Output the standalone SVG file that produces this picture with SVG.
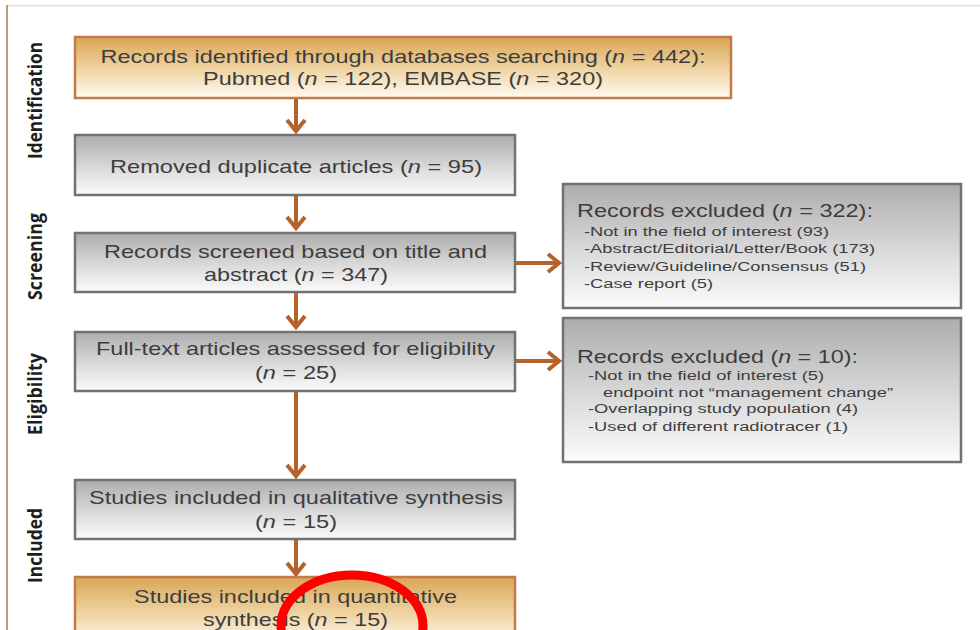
<svg xmlns="http://www.w3.org/2000/svg" width="980" height="630" viewBox="0 0 980 630">
<defs>
<linearGradient id="gOrange" x1="0" y1="0" x2="0" y2="1">
<stop offset="0" stop-color="#d9a656"/>
<stop offset="0.55" stop-color="#f0d6a6"/>
<stop offset="1" stop-color="#fffbf3"/>
</linearGradient>
<linearGradient id="gGray" x1="0" y1="0" x2="0" y2="1">
<stop offset="0" stop-color="#adadad"/>
<stop offset="0.6" stop-color="#dedede"/>
<stop offset="1" stop-color="#fbfbfb"/>
</linearGradient>
<marker id="ah" markerUnits="userSpaceOnUse" markerWidth="30" markerHeight="30" refX="0" refY="0" viewBox="-15 -15 30 30" orient="auto" overflow="visible">
<path d="M-11,-9 L0,0 L-11,9" fill="none" stroke="#b5612b" stroke-width="4"/>
</marker>
</defs>
<style>
.box-o{fill:url(#gOrange);stroke:#c27a48;stroke-width:2.5}
.box-g{fill:url(#gGray);stroke:#727272;stroke-width:2.5}
.t{font-family:"Liberation Sans",Arial,sans-serif;font-size:18.5px;fill:#3d3d3d;text-anchor:middle}
.rt{font-family:"Liberation Sans",Arial,sans-serif;font-size:18px;fill:#3d3d3d}
.ri{font-family:"Liberation Sans",Arial,sans-serif;font-size:12px;fill:#3d3d3d}
.side{font-family:"Open Sans","DejaVu Sans",sans-serif;font-size:20px;font-weight:700;fill:#1e1e1e;text-anchor:middle}
.n{font-style:italic}
.conn{stroke:#b5612b;stroke-width:4;fill:none;marker-end:url(#ah)}
</style>
<rect x="0" y="0" width="980" height="630" fill="#ffffff"/>
<line x1="8" y1="5.5" x2="980" y2="5.5" stroke="#e6ded2" stroke-width="1.5"/>
<line x1="7" y1="5" x2="7" y2="630" stroke="#b99d76" stroke-width="2"/>

<g id="side-labels">
<text class="side" transform="translate(42,100.5) rotate(-90)" textLength="117" lengthAdjust="spacingAndGlyphs">Identification</text>
<text class="side" transform="translate(42,256.5) rotate(-90)" textLength="87" lengthAdjust="spacingAndGlyphs">Screening</text>
<text class="side" transform="translate(42,394) rotate(-90)" textLength="82" lengthAdjust="spacingAndGlyphs">Eligibility</text>
<text class="side" transform="translate(42,545.5) rotate(-90)" textLength="75" lengthAdjust="spacingAndGlyphs">Included</text>
</g>

<g id="connectors">
<path class="conn" d="M296,99 V131"/>
<path class="conn" d="M296,196 V228"/>
<path class="conn" d="M296,293 V327"/>
<path class="conn" d="M296,392 V476"/>
<path class="conn" d="M296,540 V574"/>
<path class="conn" d="M516,263 H559"/>
<path class="conn" d="M516,361 H559"/>
</g>

<g id="n1">
<rect class="box-o" x="75" y="37" width="656" height="61"/>
<text class="t" x="403" y="63" textLength="605" lengthAdjust="spacingAndGlyphs">Records identified through databases searching (<tspan class="n">n</tspan> = 442):</text>
<text class="t" x="403" y="85" textLength="400" lengthAdjust="spacingAndGlyphs">Pubmed (<tspan class="n">n</tspan> = 122), EMBASE (<tspan class="n">n</tspan> = 320)</text>
</g>

<g id="n2">
<rect class="box-g" x="75" y="135" width="440" height="60"/>
<text class="t" x="296" y="173" textLength="372" lengthAdjust="spacingAndGlyphs">Removed duplicate articles (<tspan class="n">n</tspan> = 95)</text>
</g>

<g id="n3">
<rect class="box-g" x="75" y="233" width="440" height="59"/>
<text class="t" x="295.5" y="258" textLength="383" lengthAdjust="spacingAndGlyphs">Records screened based on title and</text>
<text class="t" x="296" y="281" textLength="184" lengthAdjust="spacingAndGlyphs">abstract (<tspan class="n">n</tspan> = 347)</text>
</g>

<g id="n4">
<rect class="box-g" x="75" y="332" width="440" height="59"/>
<text class="t" x="295.5" y="355" textLength="399" lengthAdjust="spacingAndGlyphs">Full-text articles assessed for eligibility</text>
<text class="t" x="296" y="379" textLength="82" lengthAdjust="spacingAndGlyphs">(<tspan class="n">n</tspan> = 25)</text>
</g>

<g id="n5">
<rect class="box-g" x="75" y="480" width="440" height="59"/>
<text class="t" x="296" y="504" textLength="414" lengthAdjust="spacingAndGlyphs">Studies included in qualitative synthesis</text>
<text class="t" x="296" y="528" textLength="82" lengthAdjust="spacingAndGlyphs">(<tspan class="n">n</tspan> = 15)</text>
</g>

<g id="n6">
<rect class="box-o" x="75" y="577" width="440" height="70"/>
<text class="t" x="295.5" y="603" textLength="323" lengthAdjust="spacingAndGlyphs">Studies included in quantitative</text>
<text class="t" x="295.5" y="626" textLength="185" lengthAdjust="spacingAndGlyphs">synthesis (<tspan class="n">n</tspan> = 15)</text>
</g>

<g id="excl1">
<rect class="box-g" x="563" y="184" width="398" height="124"/>
<text class="rt" x="577" y="217" textLength="296" lengthAdjust="spacingAndGlyphs">Records excluded (<tspan class="n">n</tspan> = 322):</text>
<text class="ri" x="584" y="236" textLength="245" lengthAdjust="spacingAndGlyphs">-Not in the field of interest (93)</text>
<text class="ri" x="584" y="253" textLength="291" lengthAdjust="spacingAndGlyphs">-Abstract/Editorial/Letter/Book (173)</text>
<text class="ri" x="584" y="271" textLength="282" lengthAdjust="spacingAndGlyphs">-Review/Guideline/Consensus (51)</text>
<text class="ri" x="584" y="288" textLength="129" lengthAdjust="spacingAndGlyphs">-Case report (5)</text>
</g>

<g id="excl2">
<rect class="box-g" x="563" y="318" width="398" height="144"/>
<text class="rt" x="577" y="363" textLength="281" lengthAdjust="spacingAndGlyphs">Records excluded (<tspan class="n">n</tspan> = 10):</text>
<text class="ri" x="588" y="380" textLength="236" lengthAdjust="spacingAndGlyphs">-Not in the field of interest (5)</text>
<text class="ri" x="603" y="397" textLength="290" lengthAdjust="spacingAndGlyphs">endpoint not “management change”</text>
<text class="ri" x="588" y="413" textLength="270" lengthAdjust="spacingAndGlyphs">-Overlapping study population (4)</text>
<text class="ri" x="588" y="431" textLength="260" lengthAdjust="spacingAndGlyphs">-Used of different radiotracer (1)</text>
</g>

<ellipse cx="352" cy="626" rx="71" ry="51" fill="none" stroke="#ff0000" stroke-width="9"/>
</svg>
